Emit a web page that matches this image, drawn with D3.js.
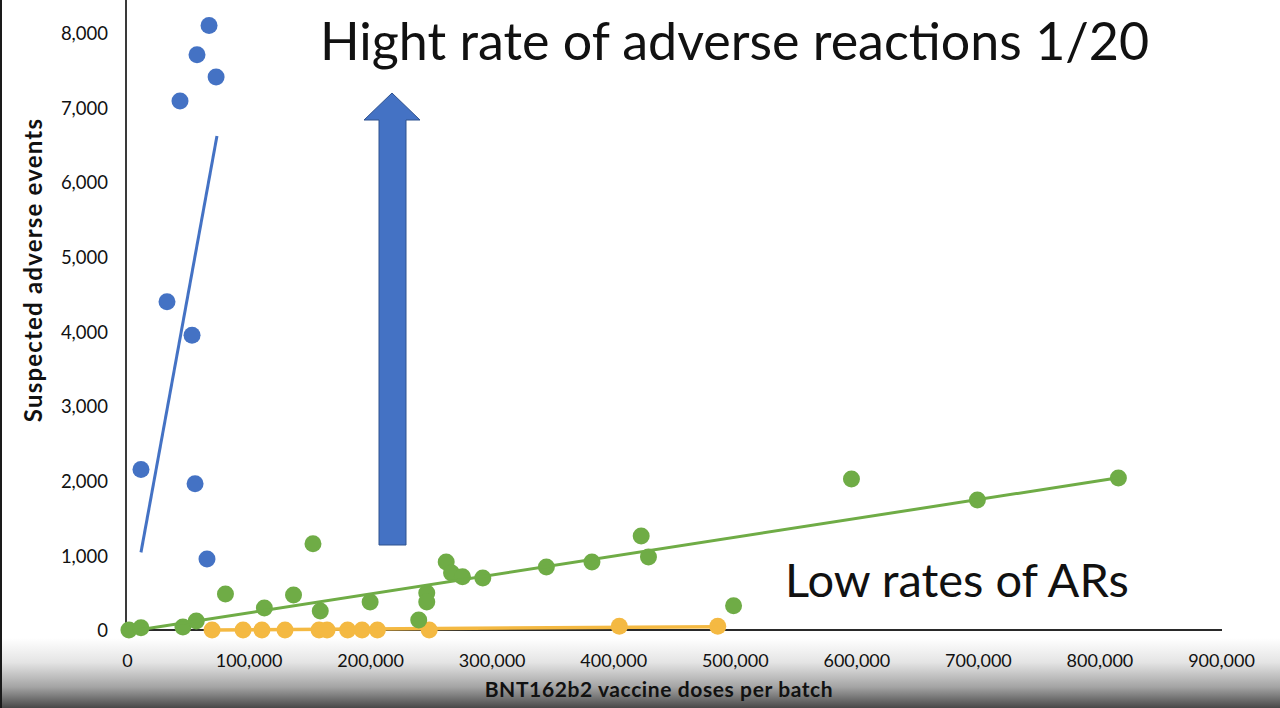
<!DOCTYPE html>
<html>
<head>
<meta charset="utf-8">
<script src="https://cdn.jsdelivr.net/npm/d3@7/dist/d3.min.js"></script>
<style>
  html, body { margin: 0; padding: 0; background: #fff; }
  svg { display: block; }
  text { font-family: Lato, "Open Sans", sans-serif; fill: #111; }
</style>
</head>
<body>
<svg id="chart" width="1280" height="708"></svg>
<script>
// ---- data ----
const xTicks = [0, 100000, 200000, 300000, 400000, 500000, 600000, 700000, 800000, 900000];
const yTicks = [0, 1000, 2000, 3000, 4000, 5000, 6000, 7000, 8000];

const blueX = [67500, 57600, 73300, 43600, 32900, 53500, 11500, 56000, 65800];
const blueY = [8100, 7710, 7410, 7090, 4400, 3950, 2150, 1960, 950];
const blueTrendX = [11500, 74000];
const blueTrendY = [1040, 6620];

const greenX = [1600, 11500, 46000, 57000, 81000, 113000, 137000, 159000, 153000, 200000, 246600, 246600, 240000, 262600, 267000, 276000, 292700, 345000, 382500, 423000, 429000, 499000, 596000, 699600, 815600];
const greenY = [0, 30, 40, 120, 483, 295, 470, 255, 1155, 375, 496, 375, 134, 912, 764, 715, 697, 845, 911, 1260, 979, 326, 2024, 1743, 2038];
const greenTrendX = [5000, 815600];
const greenTrendY = [-10, 2040];

const yellowX = [70000, 95500, 111000, 130000, 158000, 164600, 181500, 193400, 206000, 248600, 405000, 486000];
const yellowY = [0, 0, 0, 0, 0, 0, 0, 0, 0, 0, 50, 50];
const yellowTrendX = [70000, 486000];
const yellowTrendY = [0, 45];

const titleHigh = "Hight rate of adverse reactions 1/20";
const titleLow = "Low rates of ARs";
const xAxisTitle = "BNT162b2 vaccine doses per batch";
const yAxisTitle = "Suspected adverse events";

// ---- chart ----
const svg = d3.select("#chart");
const W = 1280, H = 708;

const defs = svg.append("defs");
const grad = defs.append("linearGradient").attr("id", "bottomFade")
  .attr("x1", 0).attr("y1", 0).attr("x2", 0).attr("y2", 1);
grad.append("stop").attr("offset", "0%").attr("stop-color", "#ffffff");
grad.append("stop").attr("offset", "35%").attr("stop-color", "#e4e4e4");
grad.append("stop").attr("offset", "70%").attr("stop-color", "#a4a4a4");
grad.append("stop").attr("offset", "100%").attr("stop-color", "#484848");

svg.append("rect").attr("width", W).attr("height", H).attr("fill", "#fff");
svg.append("rect").attr("x", 0).attr("y", 638).attr("width", W).attr("height", H - 638)
  .attr("fill", "url(#bottomFade)");
svg.append("rect").attr("x", 0).attr("y", 0).attr("width", 2).attr("height", H).attr("fill", "#1a1a1a");

const x = d3.scaleLinear().domain([0, 900000]).range([127, 1221]);
const y = d3.scaleLinear().domain([0, 8000]).range([630, 33]);

// axes
const fmt = d3.format(",");
const xAxis = d3.axisBottom(x).tickValues(xTicks).tickFormat(fmt).tickSize(0).tickPadding(0);
const yAxis = d3.axisLeft(y).tickValues(yTicks).tickFormat(fmt).tickSize(0).tickPadding(0);

const gx = svg.append("g").attr("transform", `translate(0,${y(0)})`).call(xAxis);
gx.select(".domain").remove();
gx.selectAll("text").attr("dy", null).attr("y", 37)
  .style("font-size", "18px").style("font-family", "Lato, sans-serif").attr("fill", "#111");

const gy = svg.append("g").attr("transform", `translate(${x(0)},0)`).call(yAxis);
gy.select(".domain").remove();
gy.selectAll("text").attr("x", -19).attr("dy", "0.36em")
  .style("font-size", "18.5px").style("font-family", "Lato, sans-serif").attr("fill", "#111");

// axis lines
svg.append("line").attr("x1", x(0) - 1).attr("x2", x(0) - 1).attr("y1", 0).attr("y2", y(0))
  .attr("stroke", "#3a3a3a").attr("stroke-width", 2);
svg.append("line").attr("x1", x(0) - 1).attr("x2", 1222).attr("y1", y(0)).attr("y2", y(0))
  .attr("stroke", "#2a2a2a").attr("stroke-width", 2);

// axis titles
svg.append("text").attr("transform", `translate(42,${270}) rotate(-90)`)
  .attr("text-anchor", "middle").style("font-size", "24px").style("font-weight", "bold")
  .style("letter-spacing", "1.2px")
  .text(yAxisTitle);
svg.append("text").attr("x", 659).attr("y", 697)
  .attr("text-anchor", "middle").style("font-size", "21px").style("font-weight", "bold")
  .style("letter-spacing", "0.6px")
  .text(xAxisTitle);

const BLUE = "#4472C4", GREEN = "#6FAC46", GOLD = "#F4B942";
const R = 8.5;

function series(xs, ys, tx, ty, color, lw) {
  const pts = xs.map((d, i) => [d, ys[i]]);
  const tr = tx.map((d, i) => [d, ty[i]]);
  const g = svg.append("g");
  g.selectAll("circle").data(pts).join("circle")
    .attr("cx", d => x(d[0])).attr("cy", d => y(d[1])).attr("r", R).attr("fill", color);
  g.append("path").datum(tr)
    .attr("d", d3.line().x(d => x(d[0])).y(d => y(d[1])))
    .attr("stroke", color).attr("stroke-width", lw).attr("fill", "none");
}
series(yellowX, yellowY, yellowTrendX, yellowTrendY, GOLD, 3.5);
series(greenX, greenY, greenTrendX, greenTrendY, GREEN, 3);
series(blueX, blueY, blueTrendX, blueTrendY, BLUE, 3);

// arrow
const arrowPts = [[379, 545], [379, 120], [364, 120], [392, 93], [420, 120], [406, 120], [406, 545]];
svg.append("path").attr("d", d3.line()(arrowPts) + "Z")
  .attr("fill", BLUE).attr("stroke", "#2F528F").attr("stroke-width", 1);

// annotations
svg.append("text").attr("x", 320).attr("y", 60).style("font-size", "52px").text(titleHigh);
svg.append("text").attr("x", 785).attr("y", 597).style("font-size", "47px").text(titleLow);
</script>
</body>
</html>
